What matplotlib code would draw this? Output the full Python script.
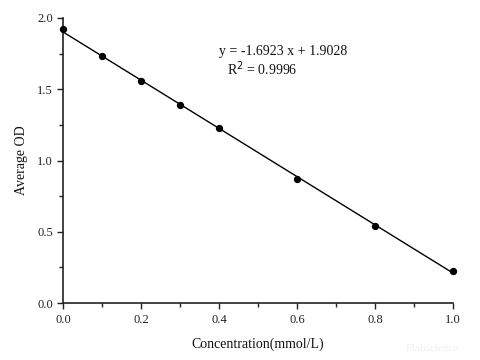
import matplotlib
matplotlib.use("Agg")
import matplotlib.pyplot as plt
import numpy as np
from matplotlib.ticker import MultipleLocator

plt.rcParams['font.family'] = ['Liberation Serif', 'DejaVu Serif']

conc = [0.0, 0.1, 0.2, 0.3, 0.4, 0.6, 0.8, 1.0]
od = [1.92, 1.735, 1.555, 1.39, 1.225, 0.872, 0.54, 0.222]
slope = -1.6923
intercept = 1.9028
eq_text = "y = -1.6923 x + 1.9028"
r2_text = "R$^2$ = 0.9996"

fig = plt.figure(figsize=(4.8, 3.6), dpi=100)
ax = fig.add_axes([0.131, 0.158, 0.813, 0.792])

xf = np.array([0.0, 1.0])
ax.plot(xf, slope * xf + intercept, color='black', lw=1.0, zorder=2)
ax.scatter(conc, od, s=18, color='black', zorder=3, clip_on=False)

ax.set_xlim(0, 1.0)
ax.set_ylim(0, 2.0)
ax.xaxis.set_major_locator(MultipleLocator(0.2))
ax.xaxis.set_minor_locator(MultipleLocator(0.1))
ax.yaxis.set_major_locator(MultipleLocator(0.5))
ax.yaxis.set_minor_locator(MultipleLocator(0.25))
ax.spines['top'].set_visible(False)
ax.spines['right'].set_visible(False)
for s in ['left', 'bottom']:
    ax.spines[s].set_linewidth(1.2)
    ax.spines[s].set_color('#222222')
ax.tick_params(which='major', direction='out', length=4, width=1, labelsize=9, colors='#222222')
ax.tick_params(axis='x', which='major', pad=4)
ax.tick_params(axis='y', which='major', pad=3)
ax.tick_params(which='minor', direction='out', length=3, width=1, colors='#222222')
ax.xaxis.set_major_formatter(matplotlib.ticker.FormatStrFormatter('%.1f'))
ax.yaxis.set_major_formatter(matplotlib.ticker.FormatStrFormatter('%.1f'))

ax.set_xlabel("Concentration(mmol/L)", fontsize=10, color='#111111', labelpad=8)
ax.set_ylabel("Average OD", fontsize=10, color='#111111', labelpad=7)

ax.text(0.40, 1.765, eq_text, fontsize=10, color='#111111', ha='left', va='center')
ax.text(0.42, 1.645, r2_text, fontsize=10, color='#111111', ha='left', va='center')

fig.text(0.955, 0.02, "Elabscience", fontsize=8, color='#f0f0f0', ha='right', va='bottom')

fig.savefig("out.png", dpi=100)
